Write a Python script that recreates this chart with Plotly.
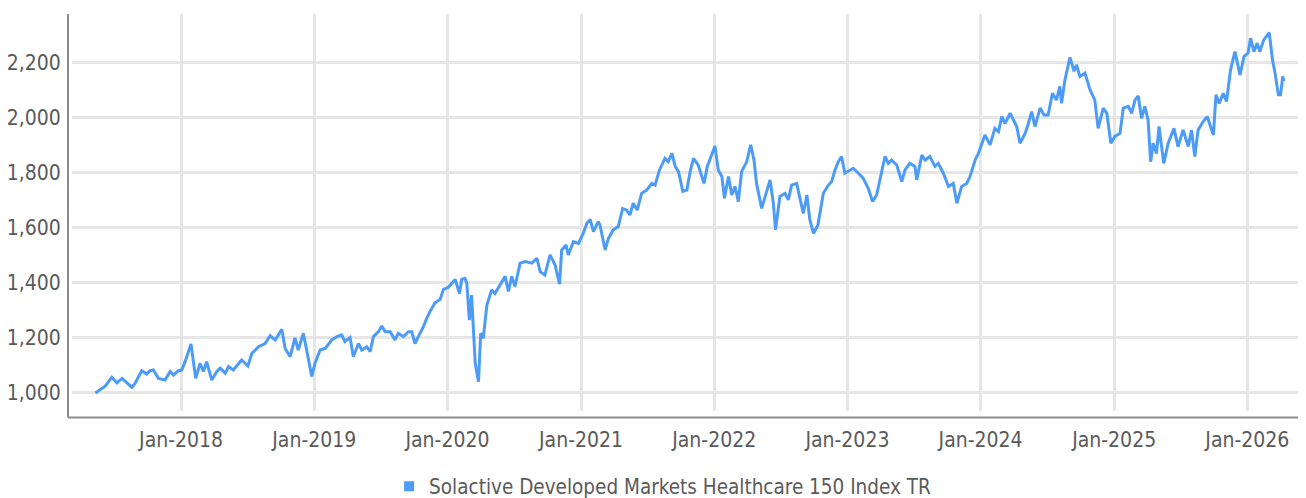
import plotly.graph_objects as go

SERIES_NAME = "Solactive Developed Markets Healthcare 150 Index TR"

dates = [
    "2017-05-11", "2017-05-24", "2017-06-07", "2017-06-25", "2017-07-09", "2017-07-23",
    "2017-08-19", "2017-08-28", "2017-09-15", "2017-09-29", "2017-10-08", "2017-10-17",
    "2017-10-31", "2017-11-18", "2017-12-02", "2017-12-11", "2017-12-25", "2018-01-03",
    "2018-01-12", "2018-01-28", "2018-02-10", "2018-02-22", "2018-03-03", "2018-03-12",
    "2018-03-26", "2018-04-09", "2018-04-18", "2018-05-02", "2018-05-11", "2018-05-24",
    "2018-06-16", "2018-07-03", "2018-07-14", "2018-08-01", "2018-08-19", "2018-09-02",
    "2018-09-16", "2018-10-04", "2018-10-13", "2018-10-27", "2018-11-09", "2018-11-18",
    "2018-12-02", "2018-12-11", "2018-12-25", "2019-01-03", "2019-01-17", "2019-01-31",
    "2019-02-18", "2019-03-04", "2019-03-17", "2019-03-26", "2019-04-09", "2019-04-18",
    "2019-05-02", "2019-05-11", "2019-05-25", "2019-06-03", "2019-06-12", "2019-06-26",
    "2019-07-05", "2019-07-14", "2019-07-28", "2019-08-10", "2019-08-19", "2019-09-02",
    "2019-09-16", "2019-09-25", "2019-10-04", "2019-10-13", "2019-10-27", "2019-11-05",
    "2019-11-14", "2019-11-28", "2019-12-12", "2019-12-21", "2020-01-03", "2020-01-13",
    "2020-01-22", "2020-02-03", "2020-02-09", "2020-02-18", "2020-02-23", "2020-03-01",
    "2020-03-07", "2020-03-17", "2020-03-26", "2020-04-01", "2020-04-08", "2020-04-18",
    "2020-05-01", "2020-05-10", "2020-05-24", "2020-06-07", "2020-06-16", "2020-06-25",
    "2020-07-04", "2020-07-18", "2020-08-01", "2020-08-19", "2020-09-02", "2020-09-11",
    "2020-09-24", "2020-10-08", "2020-10-22", "2020-11-03", "2020-11-09", "2020-11-21",
    "2020-11-27", "2020-12-11", "2020-12-25", "2021-01-07", "2021-01-17", "2021-01-26",
    "2021-02-04", "2021-02-17", "2021-02-22", "2021-03-08", "2021-03-17", "2021-03-30",
    "2021-04-13", "2021-04-25", "2021-05-06", "2021-05-15", "2021-05-24", "2021-06-04",
    "2021-06-16", "2021-06-30", "2021-07-14", "2021-07-23", "2021-08-04", "2021-08-19",
    "2021-08-28", "2021-09-07", "2021-09-16", "2021-09-25", "2021-10-07", "2021-10-18",
    "2021-10-27", "2021-11-05", "2021-11-18", "2021-12-04", "2021-12-13", "2021-12-25",
    "2022-01-03", "2022-01-12", "2022-01-22", "2022-01-29", "2022-02-09", "2022-02-18",
    "2022-02-27", "2022-03-08", "2022-03-17", "2022-03-31", "2022-04-11", "2022-04-20",
    "2022-04-27", "2022-05-11", "2022-05-25", "2022-06-03", "2022-06-12", "2022-06-18",
    "2022-06-30", "2022-07-14", "2022-07-23", "2022-08-01", "2022-08-15", "2022-08-22",
    "2022-09-02", "2022-09-12", "2022-09-20", "2022-09-30", "2022-10-12", "2022-10-27",
    "2022-11-10", "2022-11-19", "2022-11-28", "2022-12-07", "2022-12-16", "2022-12-25",
    "2023-01-03", "2023-01-17", "2023-01-31", "2023-02-13", "2023-02-27", "2023-03-11",
    "2023-03-22", "2023-03-31", "2023-04-14", "2023-04-23", "2023-05-02", "2023-05-16",
    "2023-05-30", "2023-06-08", "2023-06-21", "2023-07-05", "2023-07-10", "2023-07-24",
    "2023-08-02", "2023-08-15", "2023-08-29", "2023-09-07", "2023-09-21", "2023-10-05",
    "2023-10-18", "2023-10-28", "2023-11-10", "2023-11-24", "2023-12-03", "2023-12-17",
    "2023-12-26", "2024-01-08", "2024-01-13", "2024-01-27", "2024-02-09", "2024-02-19",
    "2024-02-28", "2024-03-08", "2024-03-22", "2024-03-31", "2024-04-09", "2024-04-18",
    "2024-05-02", "2024-05-11", "2024-05-20", "2024-05-29", "2024-06-12", "2024-06-23",
    "2024-07-04", "2024-07-16", "2024-07-27", "2024-08-05", "2024-08-10", "2024-08-19",
    "2024-09-02", "2024-09-13", "2024-09-20", "2024-09-29", "2024-10-13", "2024-10-27",
    "2024-11-09", "2024-11-18", "2024-12-02", "2024-12-12", "2024-12-23", "2025-01-03",
    "2025-01-17", "2025-01-26", "2025-02-09", "2025-02-18", "2025-02-27", "2025-03-08",
    "2025-03-17", "2025-03-26", "2025-04-04", "2025-04-11", "2025-04-18", "2025-04-27",
    "2025-05-04", "2025-05-11", "2025-05-17", "2025-05-29", "2025-06-14", "2025-06-25",
    "2025-07-09", "2025-07-23", "2025-08-01", "2025-08-10", "2025-08-19", "2025-09-02",
    "2025-09-13", "2025-09-22", "2025-09-30", "2025-10-07", "2025-10-16", "2025-10-27",
    "2025-11-05", "2025-11-16", "2025-11-28", "2025-12-12", "2025-12-23", "2026-01-03",
    "2026-01-10", "2026-01-19", "2026-01-28", "2026-02-04", "2026-02-15", "2026-03-02",
    "2026-03-11", "2026-03-18", "2026-03-27", "2026-04-02", "2026-04-08", "2026-04-11",
]

values = [
    1000, 1011, 1025, 1057, 1037, 1053,
    1021, 1036, 1081, 1069, 1081, 1084,
    1053, 1047, 1078, 1065, 1081, 1084,
    1114, 1178, 1053, 1108, 1078, 1114,
    1047, 1078, 1090, 1072, 1096, 1084,
    1120, 1098, 1144, 1168, 1180, 1208,
    1193, 1232, 1162, 1132, 1200, 1156,
    1217, 1156, 1060, 1108, 1156, 1162,
    1193, 1205, 1211, 1187, 1202, 1132,
    1180, 1156, 1168, 1150, 1205, 1223,
    1244, 1223, 1223, 1193, 1217, 1205,
    1223, 1223, 1180, 1205, 1241, 1271,
    1296, 1328, 1341, 1377, 1384, 1399,
    1413, 1362, 1413, 1417, 1399, 1265,
    1356, 1108, 1041, 1217, 1199, 1320,
    1375, 1362, 1393, 1424, 1369, 1424,
    1387, 1472, 1478, 1472, 1490, 1441,
    1429, 1502, 1465, 1396, 1520, 1538,
    1502, 1550, 1544, 1580, 1617, 1631,
    1587, 1623, 1611, 1520, 1562, 1593,
    1605, 1671, 1665, 1647, 1690, 1665,
    1726, 1738, 1762, 1756, 1811, 1853,
    1841, 1871, 1824, 1805, 1733, 1738,
    1805, 1853, 1829, 1762, 1824, 1871,
    1898, 1811, 1787, 1708, 1787, 1720,
    1751, 1696, 1805, 1841, 1902, 1847,
    1762, 1671, 1738, 1775, 1690, 1593,
    1715, 1726, 1702, 1756, 1762, 1720,
    1653, 1720, 1630, 1580, 1610, 1726,
    1756, 1769, 1811, 1841, 1860, 1799,
    1805, 1817, 1799, 1781, 1744, 1696,
    1720, 1775, 1860, 1835, 1847, 1829,
    1769, 1811, 1835, 1824, 1775, 1865,
    1847, 1860, 1824, 1835, 1799, 1751,
    1762, 1690, 1751, 1762, 1787, 1847,
    1871, 1920, 1938, 1902, 1962, 1950,
    2005, 1980, 2017, 1993, 1969, 1908,
    1944, 1980, 2023, 1969, 2036, 2011,
    2011, 2090, 2065, 2115, 2053, 2138,
    2220, 2170, 2193, 2151, 2163, 2102,
    2065, 1962, 2036, 2017, 1908, 1933,
    1944, 2036, 2042, 2017, 2065, 2080,
    1999, 2042, 1993, 1841, 1908, 1871,
    1969, 1896, 1835, 1908, 1962, 1896,
    1956, 1896, 1956, 1860, 1956, 1987,
    2005, 1969, 1938, 2084, 2053, 2090,
    2060, 2175, 2241, 2156, 2224, 2236,
    2290, 2241, 2272, 2241, 2284, 2310,
    2211, 2163, 2084, 2084, 2151, 2133,
]

x_ticks = ["2018-01-01", "2019-01-01", "2020-01-01", "2021-01-01", "2022-01-01",
           "2023-01-01", "2024-01-01", "2025-01-01", "2026-01-01"]
y_ticks = [1000, 1200, 1400, 1600, 1800, 2000, 2200]

LINE_COLOR = "#4C9BF7"
FONT = "DejaVu Sans Condensed, Liberation Sans Narrow, sans-serif"
TEXT_COLOR = "#5a5a5a"
GRID_COLOR = "#e6e6e6"
AXIS_COLOR = "#8c8c8c"

fig = go.Figure()
fig.add_trace(go.Scatter(
    x=dates, y=values, mode="lines",
    line=dict(color=LINE_COLOR, width=3),
    showlegend=False, name=SERIES_NAME,
))
fig.add_trace(go.Scatter(
    x=[None], y=[None], mode="markers",
    marker=dict(symbol="square", size=10, color=LINE_COLOR),
    name=SERIES_NAME, showlegend=True,
))

# the page places the figure 8px from the top-left corner
fig.update_layout(
    width=1298, height=490,
    margin=dict(l=64, r=1, t=6, b=87, autoexpand=False),
    paper_bgcolor="white", plot_bgcolor="white",
    font=dict(family=FONT, color=TEXT_COLOR, size=20),
    legend=dict(
        orientation="h", x=0.479, xanchor="center", y=-0.19, yanchor="middle",
        font=dict(size=20.5, color=TEXT_COLOR), itemwidth=30,
        bgcolor="rgba(0,0,0,0)",
    ),
    xaxis=dict(
        type="date", range=["2017-03-08", "2026-06-08"],
        tickvals=x_ticks, tickformat="%b-%Y",
        showgrid=True, gridcolor=GRID_COLOR, gridwidth=2.5,
        ticks="outside", ticklen=10, tickcolor="rgba(0,0,0,0)",
        showline=False, zeroline=False, automargin=False,
        tickfont=dict(size=21, color=TEXT_COLOR),
    ),
    yaxis=dict(
        range=[934.5, 2378], tickvals=y_ticks, tickformat=",",
        showgrid=True, gridcolor=GRID_COLOR, gridwidth=2.5,
        ticks="outside", ticklen=6, tickcolor="rgba(0,0,0,0)",
        showline=False, zeroline=False, automargin=False,
        tickfont=dict(size=21, color=TEXT_COLOR),
    ),
)

# axis lines offset slightly from the grid, as in the reference
fig.add_shape(type="line", xref="paper", yref="paper",
              x0=-4 / 1233, x1=-4 / 1233, y0=-6.5 / 397, y1=1.0,
              line=dict(color=AXIS_COLOR, width=2))
fig.add_shape(type="line", xref="paper", yref="paper",
              x0=-4 / 1233, x1=1.0, y0=-6.5 / 397, y1=-6.5 / 397,
              line=dict(color=AXIS_COLOR, width=2))

fig.write_html("out.html")
